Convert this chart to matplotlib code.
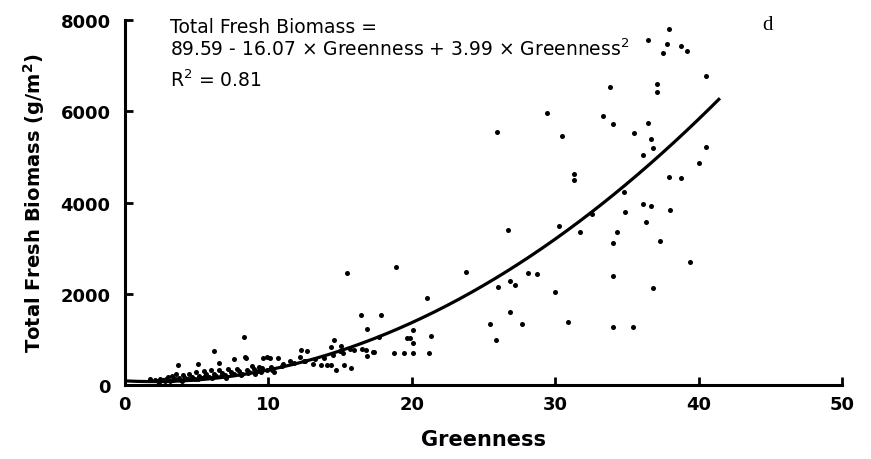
import numpy as np
import matplotlib
matplotlib.use("Agg")
import matplotlib.pyplot as plt

plt.rcParams['font.family'] = ['DejaVu Sans']

# 회귀식 계수 (그림의 수식에서 읽음)
b0, b1, b2 = 89.59, -16.07, 3.99
x_fit_max = 41.4

# 산점도 데이터 (Greenness, Total Fresh Biomass)
greenness = [
    35.6, 37.9, 36.5, 37.8, 37.5, 38.75, 39.15, 40.5, 37.1, 37.1, 33.8, 34.0, 36.5, 35.5,
    36.7, 36.8, 36.1, 40.5, 40.0, 37.9, 38.75, 34.8, 34.85, 36.1, 36.7, 38.0, 36.3, 34.3,
    34.0, 37.3, 39.4, 34.0, 36.8, 34.0, 35.4, 33.3, 32.55,
    29.4, 25.96, 30.5, 31.3, 31.3, 30.3, 31.7, 26.7, 26.0, 26.85, 27.2, 28.1, 28.7, 30.0,
    26.85, 25.45, 27.7, 30.9, 25.9,
    18.9, 23.76, 21.05, 17.9, 20.07, 19.7, 19.9, 20.07, 21.35, 17.7, 17.3, 18.8, 19.5,
    20.07, 21.2, 15.5, 16.5, 16.9,
    8.35, 8.4, 8.85, 9.4, 9.9, 10.1, 10.7, 10.4, 10.3, 11.06, 11.5, 12.2, 12.3, 12.7,
    12.6, 13.1, 13.7, 14.1, 14.4, 14.75, 15.3, 15.75, 14.6, 14.35, 15.0, 15.1, 15.7,
    16.55, 16.8, 16.9, 17.4,
    3.7, 5.15, 6.2, 6.6, 7.6, 8.45, 9.67,
    11.0, 11.8, 12.5, 13.3, 13.9, 14.5, 15.2, 16.0,
    1.8, 2.1, 2.3, 2.5, 2.7, 2.9, 3.0, 3.2, 3.3, 3.5, 3.6, 3.8, 3.9, 4.1, 4.2, 4.4, 4.5,
    4.7, 4.9, 5.0, 5.2, 5.4, 5.5, 5.7, 5.9, 6.0, 6.2, 6.4, 6.6, 6.8, 7.0, 7.2, 7.4, 7.6,
    7.8, 8.0, 8.2, 8.5, 8.7, 9.0, 9.3, 9.6, 9.9, 10.2,
    2.4, 2.8, 3.4, 4.0, 4.6, 5.1, 5.6, 6.1, 6.7, 7.1, 7.5, 8.1, 8.6, 9.1, 9.5,
]
biomass = [
    8100, 7800, 7570, 7475, 7270, 7425, 7315, 6765, 6600, 6415, 6525, 5720, 5745, 5525,
    5390, 5195, 5050, 5210, 4865, 4565, 4545, 4240, 3785, 3970, 3930, 3835, 3580, 3360,
    3110, 3165, 2690, 2395, 2120, 1265, 1265, 5890, 3750,
    5955, 5550, 5465, 4625, 4500, 3490, 3360, 3400, 2140, 2270, 2190, 2450, 2435, 2030,
    1605, 1335, 1335, 1375, 995,
    2580, 2470, 1900, 1540, 1215, 1030, 1030, 910, 1070, 1050, 730, 710, 700,
    700, 700, 2455, 1540, 1220,
    1045, 605, 415, 390, 605, 600, 585, 280, 330, 460, 535, 605, 775, 750,
    535, 460, 440, 440, 430, 325, 445, 370, 995, 825, 750, 850, 790,
    780, 760, 625, 715,
    440, 450, 745, 480, 570, 590, 585,
    420, 480, 520, 560, 600, 650, 700, 760,
    130, 110, 90, 140, 100, 120, 170, 90, 200, 130, 240, 150, 100, 210, 160, 120, 250,
    180, 140, 280, 200, 160, 300, 230, 170, 320, 250, 200, 330, 260, 210, 350, 280, 240,
    360, 300, 250, 330, 280, 350, 300, 380, 330, 390,
    60, 80, 110, 90, 140, 120, 190, 150, 200, 160, 230, 220, 260, 240, 290,
]

x_ticks = [0, 10, 20, 30, 40, 50]
y_ticks = [0, 2000, 4000, 6000, 8000]

fig = plt.figure(figsize=(8.71, 4.6), dpi=100)
ax = fig.add_axes([0.143, 0.161, 0.824, 0.793])

ax.scatter(greenness, biomass, s=13, color='black', linewidths=0, zorder=3)

xf = np.linspace(0, x_fit_max, 200)
ax.plot(xf, b0 + b1 * xf + b2 * xf ** 2, color='black', lw=2.3, zorder=4)

ax.set_xlim(0, 50)
ax.set_ylim(0, 8000)
ax.set_xticks(x_ticks)
ax.set_yticks(y_ticks)
for s in ['top', 'right']:
    ax.spines[s].set_visible(False)
for s in ['left', 'bottom']:
    ax.spines[s].set_linewidth(2.2)
ax.tick_params(direction='in', length=6, width=2, labelsize=13)
ax.tick_params(axis='y', pad=10)
ax.tick_params(axis='x', pad=7)
for lab in ax.get_xticklabels() + ax.get_yticklabels():
    lab.set_fontweight('bold')

ax.set_xlabel('Greenness', fontsize=15, fontweight='bold', labelpad=12)
ax.set_ylabel('Total Fresh Biomass (g/m$^\\mathbf{2}$)', fontsize=14, fontweight='bold', labelpad=10)

ax.text(3.2, 7860, 'Total Fresh Biomass =', fontsize=13.5, va='center')
ax.text(3.2, 7380, '89.59 - 16.07 × Greenness + 3.99 × Greenness$^2$', fontsize=13.5, va='center')
ax.text(3.2, 6710, 'R$^2$ = 0.81', fontsize=13.5, va='center')
ax.text(44.4, 7900, 'd', fontsize=15, va='center', family=['Liberation Serif'])

fig.savefig('out.png', dpi=100)
